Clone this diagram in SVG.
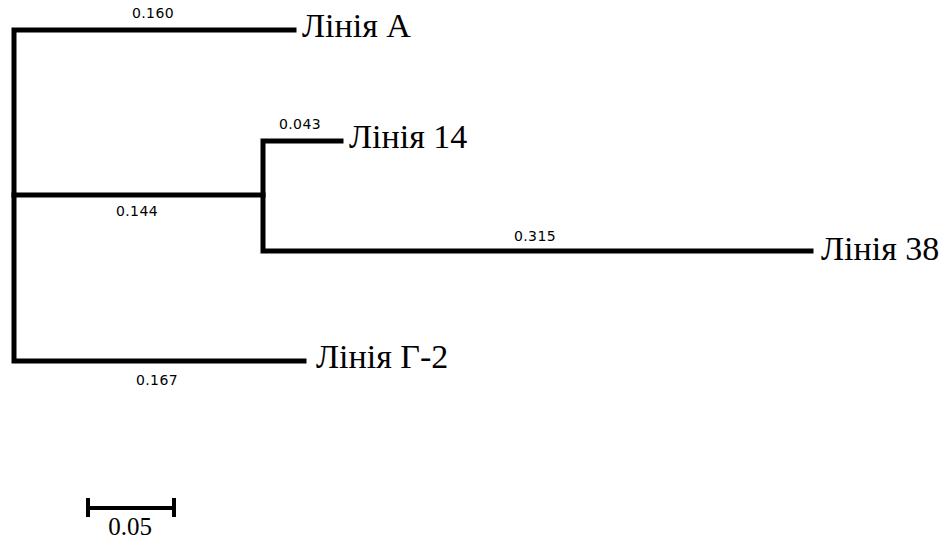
<svg xmlns="http://www.w3.org/2000/svg" width="945" height="539" viewBox="0 0 945 539">
<style>
.br{stroke:#000;stroke-width:5;fill:none;stroke-linecap:square}
.lb{font-family:"Liberation Serif","Times New Roman",serif;font-size:34px;fill:#000}
.bl{font-family:"DejaVu Sans","Verdana",sans-serif;font-size:14px;letter-spacing:0.4px;fill:#000;text-anchor:middle}
</style>
<rect width="945" height="539" fill="#fff"/>
<g id="connectors">
<path class="br" d="M294 30H14V361H304"/>
<path class="br" d="M14 195H263"/>
<path class="br" d="M341 141H263V251H811"/>
<text class="bl" x="153" y="18">0.160</text>
<text class="bl" x="300" y="129">0.043</text>
<text class="bl" x="137" y="216">0.144</text>
<text class="bl" x="535" y="241">0.315</text>
<text class="bl" x="157" y="385">0.167</text>
</g>
<g id="node-a"><text class="lb" x="302" y="37">Лінія А</text></g>
<g id="node-14"><text class="lb" x="349" y="148">Лінія 14</text></g>
<g id="node-38"><text class="lb" x="821" y="260">Лінія 38</text></g>
<g id="node-g2"><text class="lb" x="316" y="368">Лінія Г-2</text></g>
<g id="scale">
<path stroke="#000" stroke-width="4" fill="none" d="M88 508H174M88 498V517M174 498V517"/>
<text class="lb" x="130" y="535" text-anchor="middle" style="font-size:25px">0.05</text>
</g>
</svg>
